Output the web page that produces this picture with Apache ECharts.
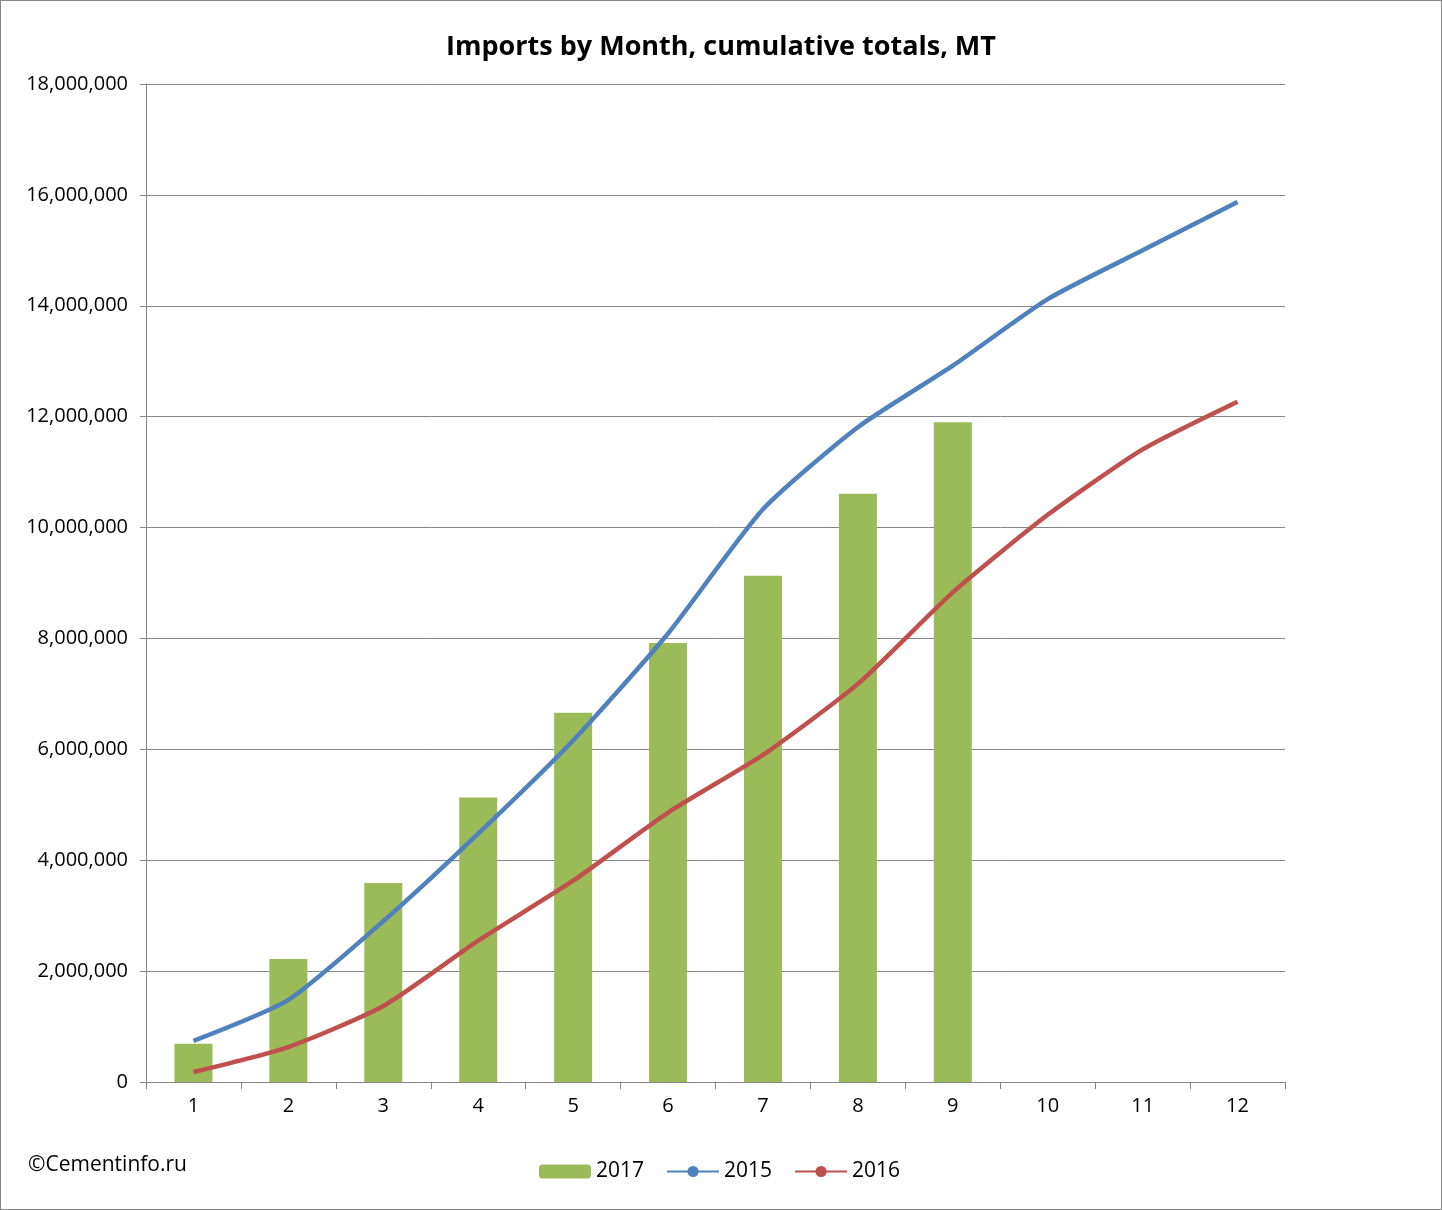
<!DOCTYPE html>
<html>
<head>
<meta charset="utf-8">
<script src="https://cdn.jsdelivr.net/npm/echarts@6/dist/echarts.min.js"></script>
<style>
  html, body { margin: 0; padding: 0; background: #fff; }
  #chart { width: 1440px; height: 1208px; border: 1px solid #868686; }
</style>
</head>
<body>
<div id="chart"></div>
<script>
var months = ["1", "2", "3", "4", "5", "6", "7", "8", "9", "10", "11", "12"];
var imports2017 = [690000, 2220000, 3590000, 5130000, 6660000, 7920000, 9130000, 10610000, 11900000];
var imports2015 = [740000, 1480000, 2900000, 4480000, 6160000, 8090000, 10330000, 11810000, 12920000, 14120000, 15000000, 15870000];
var imports2016 = [180000, 630000, 1370000, 2550000, 3630000, 4860000, 5900000, 7180000, 8830000, 10230000, 11410000, 12270000];

var font = "Open Sans, Noto Sans, sans-serif";
var myChart = echarts.init(document.getElementById("chart"));

myChart.setOption({
  animation: false,
  title: {
    text: "Imports by Month, cumulative totals, MT",
    left: "center",
    top: 28,
    textStyle: { fontFamily: font, fontSize: 27, fontWeight: "bold", color: "#000" }
  },
  graphic: [{
    type: "text",
    left: 27,
    top: 1154,
    style: { text: "©Cementinfo.ru", font: "21px " + font, fill: "#000" }
  }],
  legend: {
    data: ["2017", "2015", "2016"],
    left: 533,
    top: 1155,
    itemWidth: 52,
    itemHeight: 14,
    itemGap: 22,
    textStyle: { fontFamily: font, fontSize: 21, color: "#000" }
  },
  grid: { left: 145, right: 156, top: 83, bottom: 127 },
  xAxis: {
    type: "category",
    data: months,
    axisLine: { lineStyle: { color: "#868686" } },
    axisTick: { show: true, length: 7, lineStyle: { color: "#868686" } },
    axisLabel: { fontFamily: font, fontSize: 20, color: "#000", margin: 14 }
  },
  yAxis: {
    type: "value",
    min: 0,
    max: 18000000,
    interval: 2000000,
    axisLine: { show: true, lineStyle: { color: "#868686" } },
    axisTick: { show: true, length: 6, lineStyle: { color: "#868686" } },
    splitLine: { lineStyle: { color: "#868686" } },
    axisLabel: { fontFamily: font, fontSize: 20, color: "#000", margin: 18 }
  },
  series: [
    {
      name: "2017",
      type: "bar",
      data: imports2017,
      barWidth: 38,
      itemStyle: { color: "#9BBB59" }
    },
    {
      name: "2015",
      type: "line",
      data: imports2015,
      smooth: 0.2,
      symbol: "none",
      lineStyle: { width: 4.5, color: "#4F81BD" },
      itemStyle: { color: "#4F81BD" }
    },
    {
      name: "2016",
      type: "line",
      data: imports2016,
      smooth: 0.2,
      symbol: "none",
      lineStyle: { width: 4.5, color: "#C0504D" },
      itemStyle: { color: "#C0504D" }
    }
  ]
});
</script>
</body>
</html>
